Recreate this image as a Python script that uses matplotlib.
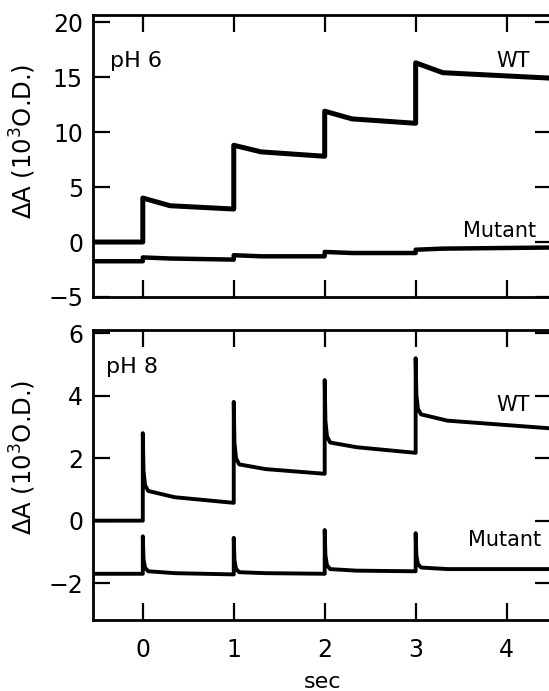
import numpy as np
import matplotlib.pyplot as plt

# -----------------------------
# Data (time in sec, dA in 10^3 O.D.)
# -----------------------------
flash_times = [0, 1, 2, 3]
t_start, t_end = -0.55, 4.5

# pH 6 -- WT: level just after each flash, level just before the next one
wt6_pre = 0.0
wt6_jump = [4.0, 8.8, 11.9, 16.3]
wt6_mid = [3.3, 8.2, 11.2, 15.4]
wt6_end = [3.0, 7.8, 10.8, 14.9]

# pH 6 -- Mutant
mut6_pre = -1.75
mut6_jump = [-1.4, -1.2, -0.9, -0.7]
mut6_mid = [-1.5, -1.3, -1.0, -0.6]
mut6_end = [-1.6, -1.3, -1.0, -0.5]

# pH 8 -- WT: spike peak, level after fast decay, level before next flash
wt8_pre = 0.0
wt8_peak = [2.8, 3.8, 4.5, 5.2]
wt8_fast = [0.95, 1.8, 2.5, 3.4]
wt8_mid = [0.75, 1.65, 2.35, 3.2]
wt8_end = [0.57, 1.5, 2.17, 2.95]

# pH 8 -- Mutant
mut8_pre = -1.7
mut8_peak = [-0.5, -0.55, -0.3, -0.4]
mut8_fast = [-1.62, -1.65, -1.55, -1.5]
mut8_mid = [-1.68, -1.68, -1.6, -1.55]
mut8_end = [-1.72, -1.7, -1.62, -1.55]

ph_labels = ["pH 6", "pH 8"]
trace_labels = ["WT", "Mutant"]


def step_trace(pre, jump, mid, end):
    t = [t_start, flash_times[0]]
    y = [pre, pre]
    for i, f in enumerate(flash_times):
        nxt = flash_times[i + 1] if i + 1 < len(flash_times) else t_end
        t += [f, f + 0.3, nxt]
        y += [jump[i], mid[i], end[i]]
    return t, y


def spike_trace(pre, peak, fast, mid, end):
    t = [t_start, flash_times[0]]
    y = [pre, pre]
    for i, f in enumerate(flash_times):
        nxt = flash_times[i + 1] if i + 1 < len(flash_times) else t_end
        t += [f, f + 0.008, f + 0.025, f + 0.06, f + 0.35, nxt]
        y += [peak[i], fast[i] + 0.35 * (peak[i] - fast[i]),
              fast[i] + 0.1 * (peak[i] - fast[i]), fast[i], mid[i], end[i]]
    return t, y


# -----------------------------
# Figure
# -----------------------------
plt.rcParams['font.family'] = ['DejaVu Sans']
plt.rcParams['mathtext.fontset'] = 'dejavusans'

fig = plt.figure(figsize=(5.49, 6.91), dpi=100)
ax1 = fig.add_axes([0.169, 0.5702, 0.8366, 0.4081])
ax2 = fig.add_axes([0.169, 0.1027, 0.8366, 0.4197])

ax1.plot(*step_trace(wt6_pre, wt6_jump, wt6_mid, wt6_end), color='black', lw=3.6)
ax1.plot(*step_trace(mut6_pre, mut6_jump, mut6_mid, mut6_end), color='black', lw=3.2)
ax2.plot(*spike_trace(wt8_pre, wt8_peak, wt8_fast, wt8_mid, wt8_end), color='black', lw=2.8)
ax2.plot(*spike_trace(mut8_pre, mut8_peak, mut8_fast, mut8_mid, mut8_end), color='black', lw=2.8)

ax1.set_ylim(-5, 20.65)
ax1.set_yticks([-5, 0, 5, 10, 15, 20])
ax2.set_ylim(-3.18, 6.1)
ax2.set_yticks([-2, 0, 2, 4, 6])

for ax in (ax1, ax2):
    ax.set_xlim(t_start, t_end)
    ax.set_xticks([0, 1, 2, 3, 4])
    ax.tick_params(direction='in', length=12, width=1.6, top=True, right=True,
                   labelsize=17, pad=7)
    ax.tick_params(axis='x', pad=13)
    for s in ax.spines.values():
        s.set_linewidth(2.0)
    ax.spines['right'].set_visible(False)
    ax.set_ylabel(r'$\Delta$A (10$^3$O.D.)', fontsize=17.5)

ax1.tick_params(axis='x', labelbottom=False)
ax1.yaxis.set_label_coords(-0.119, 0.55)
ax2.yaxis.set_label_coords(-0.119, 0.56)
ax2.set_xlabel('sec', fontsize=16, labelpad=7)

# panel and trace labels
ax1.text(-0.36, 15.9, ph_labels[0], fontsize=16, ha='left', va='baseline')
ax2.text(-0.41, 4.72, ph_labels[1], fontsize=16, ha='left', va='baseline')
ax1.text(4.26, 15.9, trace_labels[0], fontsize=15, ha='right', va='baseline')
ax1.text(4.33, 0.5, trace_labels[1], fontsize=15, ha='right', va='baseline')
ax2.text(4.26, 3.5, trace_labels[0], fontsize=15, ha='right', va='baseline')
ax2.text(4.38, -0.8, trace_labels[1], fontsize=15, ha='right', va='baseline')

fig.savefig("out.png", dpi=100)
plt.close(fig)
